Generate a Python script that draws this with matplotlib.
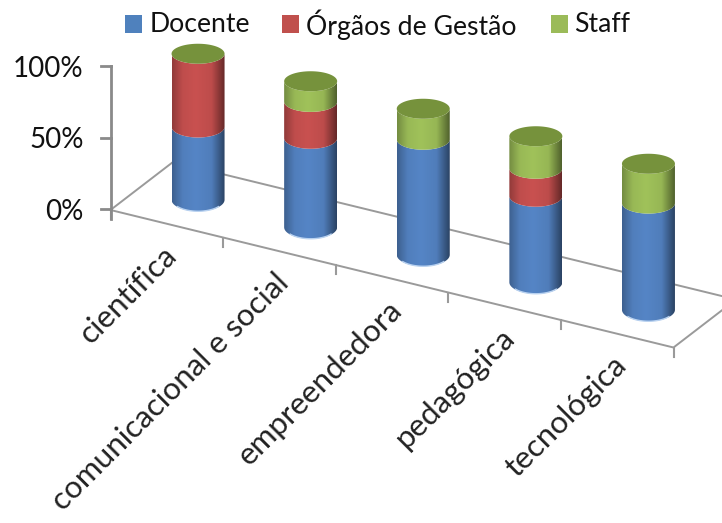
import numpy as np
import matplotlib
matplotlib.use('Agg')
import matplotlib.pyplot as plt
from matplotlib.colors import LinearSegmentedColormap, to_rgb
from matplotlib.patches import Polygon, Rectangle

plt.rcParams['font.family'] = ['Lato', 'DejaVu Sans']

# dados (percentagem de cada grupo)
categories = ['científica', 'comunicacional e social', 'empreendedora', 'pedagógica', 'tecnológica']
docente = [50, 61, 79, 59, 73]
orgaos = [50, 25, 0, 19, 0]
staff = [0, 14, 21, 22, 27]
series_names = ['Docente', 'Órgãos de Gestão', 'Staff']
value_ticks = [0, 50, 100]

series_colors = ['#5585C6', '#C95150', '#A0C25A']
legend_colors = ['#4F81BD', '#C0504D', '#9BBB59']
top_color = '#76923C'


# projecao simples do grafico 3D: categoria, profundidade, valor -> pixels
def project(cat, depth=0.0, value=0.0, scale=143.0):
    x = 110.5 + 112.6 * cat + 62.5 * depth
    y = 210 + 27.5 * cat - 48 * depth - scale * value / 100.0
    return x, y


def shade_cmap(color):
    c = np.array(to_rgb(color))
    stops = [(0.0, c * 0.72), (0.2, c * 0.95), (0.45, c), (0.75, c * 0.94), (1.0, c * 0.5)]
    return LinearSegmentedColormap.from_list('shade', [(p, tuple(v)) for p, v in stops])


fig = plt.figure(figsize=(7.22, 5.23), dpi=100)
ax = fig.add_axes([0, 0, 1, 1])
ax.set_autoscale_on(False)
ax.set_xlim(0, 722)
ax.set_ylim(523, 0)
ax.axis('off')

n = len(categories)
floor_color = '#9a9a9a'

# chao do grafico
corners = [project(0, 1), project(n, 1), project(n, 0), project(0, 0)]
xs = [p[0] for p in corners] + [corners[0][0]]
ys = [p[1] for p in corners] + [corners[0][1]]
ax.plot(xs, ys, color=floor_color, lw=1.4, zorder=1, solid_joinstyle='round')

# marcas do eixo de categorias
for i in range(n + 1):
    x, y = project(i)
    ax.plot([x, x], [y, y + 9], color=floor_color, lw=1.5, zorder=1)

# eixo de valores
x0, y0 = project(0, 0, 0)
ax.plot([x0, x0], [project(0, 0, 100)[1] - 1, y0 + 9], color='#8a8a8a', lw=2, zorder=2)
for v in value_ticks:
    _, y = project(0, 0, v)
    y -= 1
    ax.plot([x0 - 10, x0], [y, y], color='#8a8a8a', lw=2, zorder=2)
    ax.text(83.5, y + 3, '%d%%' % v, ha='right', va='center', fontsize=20, color='#111111', zorder=5)

# cilindros
half_width = 26.5
scale_bar = 146.0
theta = np.linspace(0, np.pi, 60)


def semi_h(v):
    return 11.5 - 1.5 * v / 100.0


for i in range(n):
    cx, _ = project(i + 0.5, 0.5)
    bottom = 0.0
    for vals, color in zip([docente, orgaos, staff], series_colors):
        v = vals[i]
        if v <= 0:
            continue
        top = bottom + v
        _, yb = project(i + 0.5, 0.5, bottom, scale_bar)
        _, yt = project(i + 0.5, 0.5, top, scale_bar)
        arc_x = cx + half_width * np.cos(theta)
        low = np.column_stack([arc_x, yb + semi_h(bottom) * np.sin(theta)])
        up = np.column_stack([arc_x[::-1], yt + semi_h(top) * np.sin(theta[::-1])])
        poly = Polygon(np.vstack([low, up]), closed=True, transform=ax.transData,
                       facecolor='none', edgecolor='none')
        ax.add_patch(poly)
        grad = np.linspace(0, 1, 128).reshape(1, -1)
        im = ax.imshow(grad, cmap=shade_cmap(color), aspect='auto', zorder=3,
                       extent=(cx - half_width, cx + half_width, yb + 14, yt - 2),
                       interpolation='bilinear')
        im.set_clip_path(poly)
        bottom = top
    # brilho na base do cilindro
    _, yb = project(i + 0.5, 0.5, 0, scale_bar)
    ax.plot(cx + half_width * 0.96 * np.cos(theta[12:48]), yb + semi_h(0) * np.sin(theta[12:48]),
            color='#b9d2f0', lw=1.0, zorder=3.5)
    # tampa
    _, yt = project(i + 0.5, 0.5, bottom, scale_bar)
    t = np.linspace(0, 2 * np.pi, 100)
    ax.fill(cx + half_width * np.cos(t), yt + semi_h(bottom) * np.sin(t), color=top_color, lw=0, zorder=4)

# legenda
legend_x = [125, 282, 550.5]
text_x = [150, 306, 574]
for name, color, lx, tx in zip(series_names, legend_colors, legend_x, text_x):
    ax.add_patch(Rectangle((lx, 15), 17, 17.5, facecolor=color, edgecolor='none', zorder=5))
    ax.text(tx, 24.5, name, ha='left', va='center', fontsize=19.2, color='#111111', zorder=5)

# nomes das categorias
for i, name in enumerate(categories):
    x, y = project(i + 0.5)
    ax.text(x + 5, y + 27, name, rotation=45, rotation_mode='anchor', ha='right', va='center',
            fontsize=22.6, color='#222222', zorder=5)

fig.savefig('out.png', dpi=100)
